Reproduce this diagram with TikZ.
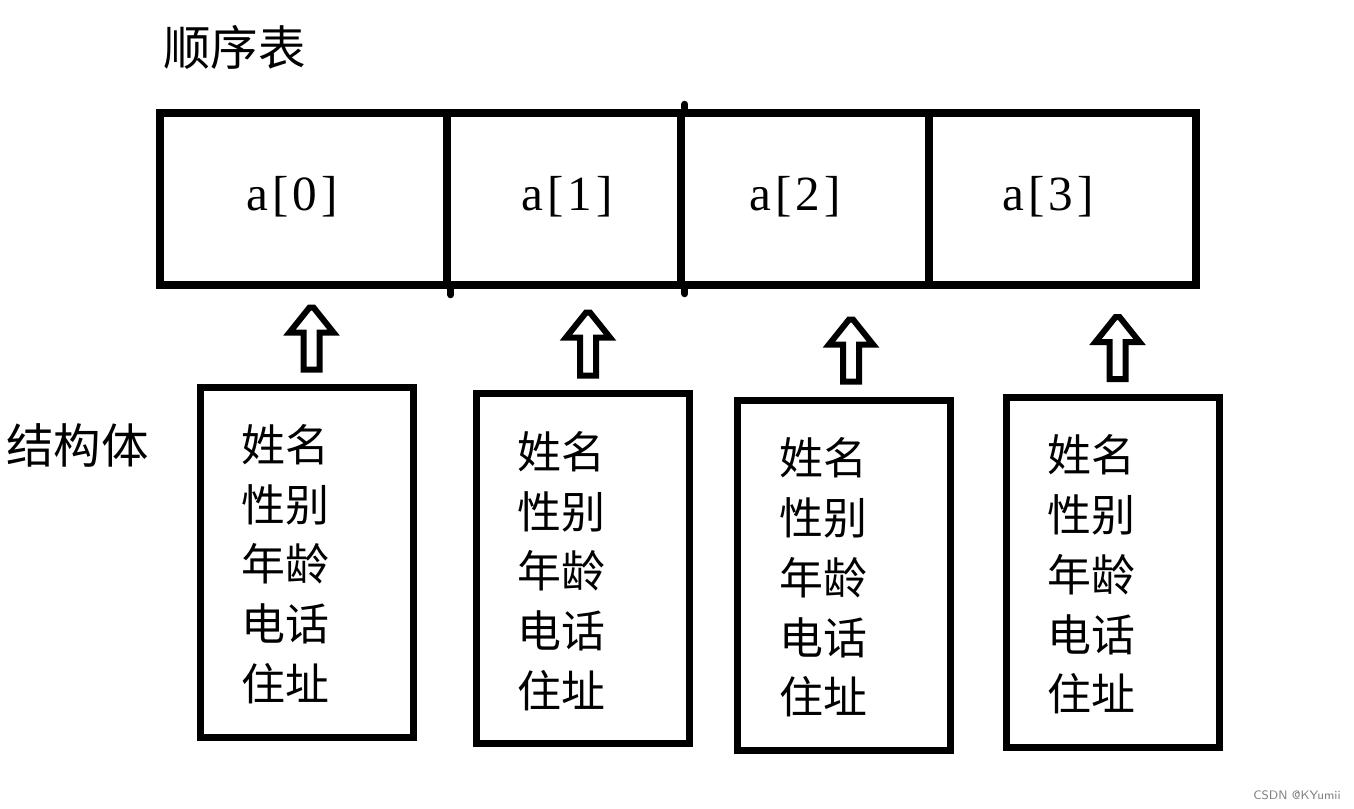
\documentclass[tikz,border=0pt]{standalone}
\usepackage{fontspec}
\newfontfamily\cjk{Noto Sans CJK SC}
\newfontfamily\idxfont[LetterSpace=8]{Liberation Serif}
\usetikzlibrary{calc}
\newcommand\upblock[2]{\draw[hollowarrow] ($(#1)+(-8,0)$) -- ($(#2)+(-8,25)$) -- ($(#2)+(-22,25)$) -- ($(#2)+(-2,0)$) -- ($(#2)+(2,0)$) -- ($(#2)+(22,25)$) -- ($(#2)+(8,25)$) -- ($(#1)+(8,0)$) -- cycle;}
\begin{document}
\begin{tikzpicture}[x=0.02cm,y=-0.02cm,
  cell/.style={draw, line width=0.15cm, inner sep=0, minimum height=172*0.02cm},
  sbox/.style={draw, line width=0.14cm, inner sep=0, minimum width=213*0.02cm, minimum height=350*0.02cm},
  idx/.style={inner sep=0, font=\idxfont\fontsize{28}{30}\selectfont},
  title/.style={inner sep=0, anchor=west, font=\cjk\fontsize{27}{30}\selectfont},
  fields/.style={inner sep=0, align=center, font=\cjk\fontsize{25}{34}\selectfont},
  hollowarrow/.style={draw, line width=0.12cm, fill=white},
  overhang/.style={line width=0.14cm, line cap=round}]
\useasboundingbox[fill=white] (0,0) rectangle (1354,808);

% title labels
\node[title] (ttl) at (163,47) {顺序表};
\node[title] (stl) at (6,445) {结构体};

% array cells
\node[cell, minimum width=287*0.02cm] (c0) at (303.5,199) {};
\node[cell, minimum width=234*0.02cm] (c1) at (564,199) {};
\node[cell, minimum width=248*0.02cm] (c2) at (805,199) {};
\node[cell, minimum width=267*0.02cm] (c3) at (1062.5,199) {};
\draw[overhang] (c0.south east) -- ++(0,6);
\draw[overhang] (c1.north east) -- ++(0,-5);
\draw[overhang] (c1.south east) -- ++(0,5);

\node[idx] (t0) at (292,197) {a[0]};
\node[idx] (t1) at (567,197) {a[1]};
\node[idx] (t2) at (795,197) {a[2]};
\node[idx] (t3) at (1048,197) {a[3]};

% structure boxes
\node[sbox] (s1) at (306.5,562) {};
\node[sbox] (s2) at (582.5,568.5) {};
\node[sbox] (s3) at (844,575.5) {};
\node[sbox] (s4) at (1112.5,572) {};

\node[fields] (f1) at (285,564) {姓名\\性别\\年龄\\电话\\住址};
\node[fields] (f2) at (561,571) {姓名\\性别\\年龄\\电话\\住址};
\node[fields] (f3) at (823,577.5) {姓名\\性别\\年龄\\电话\\住址};
\node[fields] (f4) at (1091,574.5) {姓名\\性别\\年龄\\电话\\住址};

% block arrows
\coordinate (b1) at ($(s1.north)+(5,-14)$);
\coordinate (h1) at ($(b1)+(0,-62)$);
\coordinate (b2) at ($(s2.north)+(5.5,-14.5)$);
\coordinate (h2) at ($(b2)+(0,-63)$);
\coordinate (b3) at ($(s3.north)+(7,-15.5)$);
\coordinate (h3) at ($(b3)+(0,-62)$);
\coordinate (b4) at ($(s4.north)+(5,-14.5)$);
\coordinate (h4) at ($(b4)+(0,-62)$);
\upblock{b1}{h1}
\upblock{b2}{h2}
\upblock{b3}{h3}
\upblock{b4}{h4}

\node[inner sep=0, anchor=east, text=gray, font=\sffamily\fontsize{7}{8}\selectfont] (wm) at (1341,795) {CSDN @KYumii};
\end{tikzpicture}
\end{document}
